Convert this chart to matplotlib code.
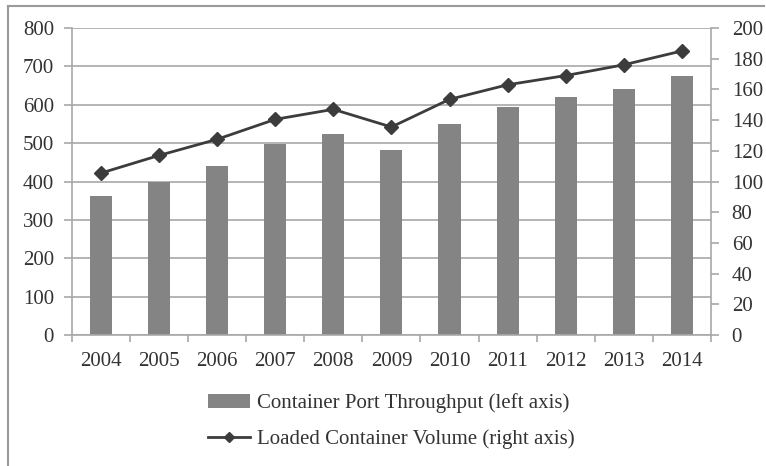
import matplotlib
matplotlib.use('Agg')
import numpy as np
import matplotlib.pyplot as plt
from matplotlib.lines import Line2D

plt.rcParams['font.family'] = ['Liberation Serif', 'DejaVu Serif']

years = ['2004', '2005', '2006', '2007', '2008', '2009', '2010', '2011', '2012', '2013', '2014']
throughput = [362, 400, 441, 498, 523, 483, 550, 594, 620, 641, 674]
loaded = [105.5, 117, 127.5, 140.5, 147, 135.5, 153.5, 163, 169, 176, 185]

bar_color = '#848484'
line_color = '#3c3c3c'
grid_color = '#a8a8a8'
text_color = '#333333'

fig = plt.figure(figsize=(7.66, 4.66), dpi=100)
ax1 = fig.add_axes([0.094, 0.281, 0.834, 0.659])
ax2 = ax1.twinx()

x = np.arange(len(years))
ax1.bar(x, throughput, width=0.38, color=bar_color, zorder=2,
        label='Container Port Throughput (left axis)')
ax2.plot(x, loaded, color=line_color, lw=2, marker='D', markersize=7,
         zorder=3, label='Loaded Container Volume (right axis)')

ax1.set_xlim(-0.5, len(years) - 0.5)
ax1.set_ylim(0, 800)
ax2.set_ylim(0, 200)
ax1.set_yticks(range(0, 801, 100))
ax2.set_yticks(range(0, 201, 20))
ax1.yaxis.grid(True, color=grid_color, lw=1.2, zorder=0)
ax1.set_axisbelow(True)

ax1.set_xticks(x)
ax1.set_xticklabels(years)
ax1.set_xticks(np.arange(-0.5, len(years)), minor=True)
ax1.tick_params(axis='x', which='major', length=0, pad=12, labelsize=15, labelcolor=text_color)
ax1.tick_params(axis='x', which='minor', length=5, color=grid_color, width=1.2)
ax1.tick_params(axis='y', length=6, color=grid_color, width=1.2, labelsize=15, pad=7,
                labelcolor=text_color)
ax2.tick_params(axis='y', length=6, color=grid_color, width=1.2, labelsize=15, pad=9,
                labelcolor=text_color)

for ax in (ax1, ax2):
    ax.spines['top'].set_visible(False)
    for s in ('left', 'right', 'bottom'):
        ax.spines[s].set_color(grid_color)
        ax.spines[s].set_linewidth(1.2)
ax1.spines['right'].set_visible(False)
ax2.spines['left'].set_visible(False)
ax2.spines['bottom'].set_visible(False)

h1, l1 = ax1.get_legend_handles_labels()
h2, l2 = ax2.get_legend_handles_labels()
leg = fig.legend(h1 + h2, l1 + l2, loc='center', bbox_to_anchor=(0.511, 0.096),
                 frameon=False, fontsize=15, handlelength=2.0, handletextpad=0.35,
                 labelspacing=0.78)
for t in leg.get_texts():
    t.set_color(text_color)
leg.legend_handles[1].set_markersize(5)

# outer frame: only top and left edges show in the reference
fig.add_artist(Line2D([0.011, 0.011], [0.0, 0.987], transform=fig.transFigure,
                      color='#9a9a9a', lw=1.5))
fig.add_artist(Line2D([0.011, 0.997], [0.987, 0.987], transform=fig.transFigure,
                      color='#9a9a9a', lw=1.5))

fig.savefig('out.png', dpi=100)
